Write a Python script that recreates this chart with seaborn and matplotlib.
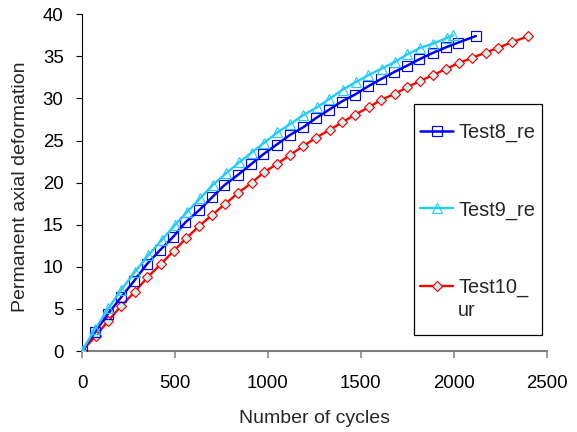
import matplotlib
matplotlib.use("Agg")
import matplotlib.pyplot as plt
from matplotlib.patches import Rectangle
import seaborn as sns
import pandas as pd

# ---- data ----
series_names = ["Test8_re", "Test9_re", "Test10_ur"]

test8_cycles = [0, 70, 138, 210, 281, 348, 420, 491, 556, 631, 701, 765, 837, 910, 976,
                1048, 1119, 1189, 1258, 1331, 1397, 1469, 1540, 1607, 1678, 1750, 1815,
                1887, 1958, 2024, 2119]
test8_def = [0.0, 2.26, 4.36, 6.37, 8.35, 10.29, 11.99, 13.57, 15.28, 16.74, 18.28, 19.68,
             20.89, 22.2, 23.38, 24.53, 25.67, 26.56, 27.66, 28.69, 29.64, 30.47, 31.45,
             32.28, 33.12, 33.91, 34.66, 35.41, 36.08, 36.64, 37.42]

test9_cycles = [0, 70, 142, 210, 285, 357, 429, 500, 566, 635, 703, 774, 845, 913, 979,
                1051, 1119, 1189, 1263, 1331, 1403, 1474, 1540, 1612, 1683, 1750, 1819,
                1890, 1962, 1997]
test9_def = [0.0, 2.6, 5.07, 7.24, 9.41, 11.39, 13.18, 14.96, 16.53, 18.12, 19.7, 21.09,
             22.4, 23.58, 24.72, 25.96, 26.94, 28.01, 28.93, 29.95, 31.06, 31.96, 32.76,
             33.55, 34.34, 35.25, 36.0, 36.52, 37.19, 37.5]

test10_cycles = [0, 74, 142, 210, 285, 352, 424, 494, 560, 631, 701, 769, 841, 913, 978,
                 1049, 1120, 1190, 1260, 1335, 1401, 1469, 1542, 1608, 1682, 1750, 1819,
                 1890, 1958, 2028, 2098, 2171, 2237, 2312, 2399]
test10_def = [0.0, 1.78, 3.6, 5.34, 7.04, 8.75, 10.33, 11.9, 13.38, 14.87, 16.18, 17.45,
              18.79, 20.0, 21.21, 22.23, 23.3, 24.33, 25.36, 26.31, 27.18, 28.09, 28.93,
              29.83, 30.54, 31.34, 32.08, 32.8, 33.51, 34.22, 34.81, 35.45, 36.0, 36.68,
              37.39]

x_ticks = [0, 500, 1000, 1500, 2000, 2500]
y_ticks = [0, 5, 10, 15, 20, 25, 30, 35, 40]

frames = []
for name, xs, ys in zip(series_names,
                        [test8_cycles, test9_cycles, test10_cycles],
                        [test8_def, test9_def, test10_def]):
    frames.append(pd.DataFrame({"cycles": xs, "deformation": ys, "series": name}))
df = pd.concat(frames, ignore_index=True)

# ---- style ----
sns.set_style("white")
plt.rcParams["font.family"] = ["Liberation Sans", "DejaVu Sans"]

fig = plt.figure(figsize=(5.77, 4.32), dpi=100)
ax = fig.add_axes([82 / 577, 1 - 351 / 432, (546.7 - 82) / 577, (351 - 14.3) / 432])

styles = {
    "Test10_ur": dict(color="#ff0000", marker="D", markersize=5.4, mfc="#c8f7f7",
                      mec="#ff0000", lw=1.7, zorder=3),
    "Test8_re": dict(color="#0000ff", marker="s", markersize=6.5, mfc="none",
                     mec="#0000ff", lw=1.8, zorder=4),
    "Test9_re": dict(color="#22ccf8", marker="^", markersize=7.3, mfc="none",
                     mec="#22ccf8", lw=1.7, zorder=5),
}

for name in ["Test10_ur", "Test8_re", "Test9_re"]:
    st = styles[name]
    sub = df[df["series"] == name]
    sns.lineplot(data=sub, x="cycles", y="deformation", ax=ax, sort=False,
                 estimator=None, color=st["color"], marker=st["marker"],
                 markersize=st["markersize"], markerfacecolor=st["mfc"],
                 markeredgecolor=st["mec"], markeredgewidth=0.85,
                 linewidth=st["lw"], label=name, zorder=st["zorder"], legend=False)

ax.set_xlim(0, 2500)
ax.set_ylim(0, 40)
ax.set_xticks(x_ticks)
ax.set_yticks(y_ticks)
ax.set_xticklabels([str(v) for v in x_ticks])
ax.set_yticklabels([str(v) for v in y_ticks])

for s in ["top", "right"]:
    ax.spines[s].set_visible(False)
ax.spines["left"].set_color("black")
ax.spines["left"].set_linewidth(0.8)
ax.spines["bottom"].set_color("#808080")
ax.spines["bottom"].set_linewidth(1.5)

ax.tick_params(axis="x", direction="out", length=5, width=1.1, color="#808080",
               pad=12, labelsize=13.4, labelcolor="black")
ax.tick_params(axis="y", direction="out", length=4.3, width=0.8, color="black",
               pad=9, labelsize=13.4, labelcolor="black")
ax.tick_params(bottom=True, left=True)

ax.set_xlabel("Number of cycles", fontsize=14)
ax.xaxis.label.set_va("baseline")
ax.xaxis.set_label_coords(0.5, (351 - 423.3) / 336.7)
ax.set_ylabel("Permanent axial deformation", fontsize=14)
ax.yaxis.set_label_coords((29 - 82) / 464.7, (351 - 187) / 336.7)

# legend
box = Rectangle(((414 - 82) / 464.7, (351 - 335) / 336.7), (541.7 - 414) / 464.7,
                (335 - 104.3) / 336.7, transform=ax.transAxes, facecolor="white",
                edgecolor="black", linewidth=0.9, clip_on=False, zorder=6)
ax.add_patch(box)

handles = {}
for line in ax.get_lines():
    handles[line.get_label()] = line
leg_handles = [handles["Test8_re"], handles["Test9_re"], handles["Test10_ur"]]
leg = ax.legend(leg_handles, ["Test8_re", "Test9_re", "Test10_"], loc="upper left",
                bbox_to_anchor=((420 - 82) / 464.7, (351 - 123) / 336.7),
                frameon=False, fontsize=14.4, borderpad=0, borderaxespad=0,
                handlelength=1.65, handletextpad=0.25, labelspacing=2.9)
leg.set_zorder(7)
ur = ax.annotate("ur", xy=(0, 0.5), xycoords=leg.get_texts()[2], xytext=(0, -16.6),
                 textcoords="offset points", ha="left", va="center", fontsize=14.4,
                 annotation_clip=False, zorder=8)

fig.canvas.draw()
fig.savefig("out.png", dpi=100)
